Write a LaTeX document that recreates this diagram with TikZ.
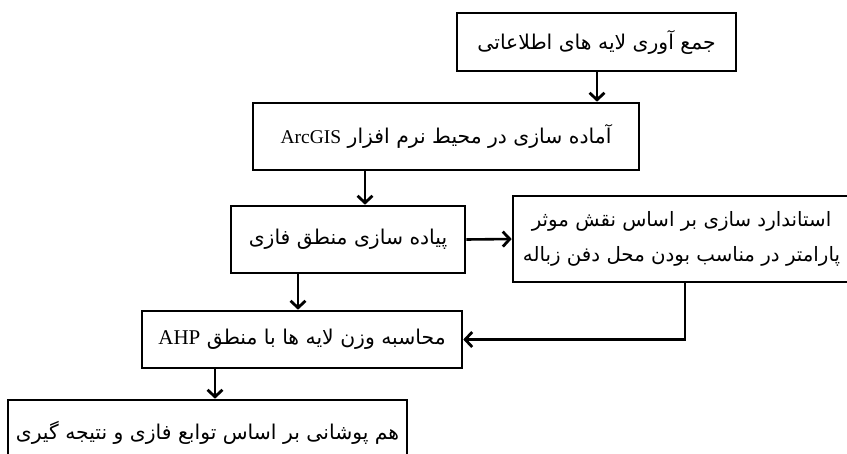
\documentclass[tikz,border=0pt]{standalone}
\usepackage{fontspec}
\setmainfont{Liberation Serif}
\newfontfamily\fa[Script=Arabic,Scale=1.13]{DejaVu Sans}
\TeXXeTstate=1
\usetikzlibrary{arrows.meta}
\newcommand\latinword[2]{\beginL{\rmfamily\fontsize{#1}{#1}\selectfont #2}\endL}
\begin{document}
\begin{tikzpicture}[x=1pt,y=-1pt,
  box/.style={draw=black,line width=2.6pt,fill=white,inner sep=0pt,
    font=\fontsize{18}{35}\selectfont\fa,align=center},
  conn/.style={line width=2.6pt,-{Straight Barb[length=7pt,width=15pt,line width=2.8pt]}},
  line/.style={line width=2.6pt}]
\clip (0,0) rectangle (847,453);
\fill[white] (0,0) rectangle (847,453);
\node[box,minimum width=279pt,minimum height=58pt] (b1) at (596.5,42)
  {\beginR جمع آوری لایه های اطلاعاتی\endR};
\node[box,minimum width=386pt,minimum height=67pt] (b2) at (446,136.5)
  {\beginR آماده سازی در محیط نرم افزار \latinword{19.5}{ArcGIS}\endR};
\node[box,minimum width=234pt,minimum height=67pt] (b3) at (348,239.5)
  {\beginR پیاده سازی منطق فازی\endR};
\node[box,minimum width=337pt,minimum height=86pt,
      font=\fontsize{17.5}{35}\selectfont\fa] (b4) at (681.5,239)
  {\beginR استاندارد سازی بر اساس نقش موثر\endR\\
   \beginR پارامتر در مناسب بودن محل دفن زباله\endR};
\node[box,minimum width=320pt,minimum height=57pt] (b5) at (302,339.5)
  {\beginR محاسبه وزن لایه ها با منطق \latinword{21}{AHP}\endR};
\node[box,minimum width=399pt,minimum height=66pt] (b6) at (207.5,433)
  {\beginR هم پوشانی بر اساس توابع فازی و نتیجه گیری\endR};
\draw[conn] (b1.south -| 597,0) -- (b2.north -| 597,0);
\draw[conn] (b2.south -| 365,0) -- (b3.north -| 365,0);
\draw[conn] (b3.east) -- (b4.west);
\draw[conn] (b3.south -| 298,0) -- (b5.north -| 298,0);
\draw[conn] (b4.south -| 685,0) |- (b5.east);
\draw[conn] (b5.south -| 215,0) -- (b6.north -| 215,0);
\end{tikzpicture}
\end{document}
